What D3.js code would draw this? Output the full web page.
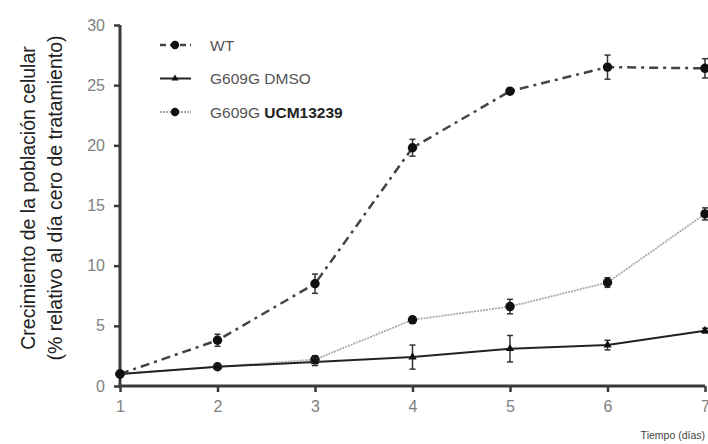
<!DOCTYPE html>
<html>
<head>
<meta charset="utf-8">
<script src="https://cdn.jsdelivr.net/npm/d3@7"></script>
<style>
  body { margin: 0; background: #fff; }
  text { font-family: "Liberation Sans", Arial, sans-serif; }
</style>
</head>
<body>
<div id="chart"></div>
<script>
// Data
const days = [1, 2, 3, 4, 5, 6, 7]
const wt = [1.0, 3.8, 8.5, 19.8, 24.5, 26.5, 26.4]
const wtErr = [0.1, 0.5, 0.8, 0.7, 0.2, 1.0, 0.8]
const dmso = [1.0, 1.6, 2.0, 2.4, 3.1, 3.4, 4.6]
const dmsoErr = [0.1, 0.2, 0.3, 1.0, 1.1, 0.4, 0.2]
const ucm = [1.0, 1.6, 2.2, 5.5, 6.6, 8.6, 14.3]
const ucmErr = [0.1, 0.2, 0.3, 0.2, 0.6, 0.4, 0.5]
const yTicks = [0, 5, 10, 15, 20, 25, 30]

const width = 708,
  height = 444

const svg = d3.select('#chart')
  .append('svg')
  .attr('width', width)
  .attr('height', height)

const x = d3.scaleLinear().domain([1, 7]).range([120, 705])
const y = d3.scaleLinear().domain([0, 30]).range([386, 25])

// axes
const yAxis = svg.append('g')
  .attr('transform', 'translate(120,0)')
  .call(d3.axisLeft(y).tickValues(yTicks).tickSize(6).tickSizeOuter(0).tickPadding(9))
const xAxis = svg.append('g')
  .attr('transform', `translate(0,${y(0)})`)
  .call(d3.axisBottom(x).tickValues(days).tickFormat(d3.format('d')).tickSize(6).tickSizeOuter(0).tickPadding(9))

// axis lines drawn as thin rects
svg.selectAll('.domain').remove()
svg.append('rect')
  .attr('x', x(1) - 1.5).attr('y', y(30))
  .attr('width', 3).attr('height', y(0) - y(30) + 1.5)
  .attr('fill', '#3a3a3a')
svg.append('rect')
  .attr('x', x(1) - 1.5).attr('y', y(0) - 1.5)
  .attr('width', x(7) - x(1) + 1.5).attr('height', 3)
  .attr('fill', '#3a3a3a')
svg.selectAll('.tick line')
  .attr('stroke', '#3a3a3a')
  .attr('stroke-width', 2.5)
svg.selectAll('.tick text')
  .attr('fill', '#808080')
  .style('font-size', '16px')
  .style('font-family', '"Liberation Sans", Arial, sans-serif')

// y title
const yTitle = svg.append('text')
  .attr('transform', 'translate(35,198) rotate(-90)')
  .attr('text-anchor', 'middle')
  .attr('fill', '#222')
  .style('font-size', '19.5px')
yTitle.append('tspan').attr('x', 0).attr('dy', 0).text('Crecimiento de la población celular')
yTitle.append('tspan').attr('x', 0).attr('dy', 27).text('(% relativo al día cero de tratamiento)')

svg.append('text')
  .attr('x', 705).attr('y', 439)
  .attr('text-anchor', 'end')
  .attr('fill', '#444')
  .style('font-size', '10.5px')
  .text('Tiempo (días)')

const series = [
  { name: 'WT', values: wt, err: wtErr, stroke: '#444', dash: '9,5,3,5', sw: 2.5, marker: 'circle' },
  { name: 'G609G DMSO', values: dmso, err: dmsoErr, stroke: '#222', dash: null, sw: 2, marker: 'triangle' },
  { name: 'G609G UCM13239', values: ucm, err: ucmErr, stroke: '#aaa', dash: '2,1', sw: 1.8, marker: 'circle' }
]

const line = d3.line().x((d, i) => x(days[i])).y(d => y(d))

// draw lighter series first
series.slice().reverse().forEach(s => {
  const g = svg.append('g')
  g.append('path')
    .datum(s.values)
    .attr('d', line)
    .attr('fill', 'none')
    .attr('stroke', s.stroke)
    .attr('stroke-width', s.sw)
    .attr('stroke-dasharray', s.dash)

  // error bars
  const eb = g.selectAll('.err')
    .data(s.values)
    .enter()
    .append('g')
  eb.append('line')
    .attr('x1', (d, i) => x(days[i])).attr('x2', (d, i) => x(days[i]))
    .attr('y1', (d, i) => y(d + s.err[i])).attr('y2', (d, i) => y(d - s.err[i]))
    .attr('stroke', '#333').attr('stroke-width', 1.5)
  eb.append('line')
    .attr('x1', (d, i) => x(days[i]) - 3).attr('x2', (d, i) => x(days[i]) + 3)
    .attr('y1', (d, i) => y(d + s.err[i])).attr('y2', (d, i) => y(d + s.err[i]))
    .attr('stroke', '#333').attr('stroke-width', 1.5)
  eb.append('line')
    .attr('x1', (d, i) => x(days[i]) - 3).attr('x2', (d, i) => x(days[i]) + 3)
    .attr('y1', (d, i) => y(d - s.err[i])).attr('y2', (d, i) => y(d - s.err[i]))
    .attr('stroke', '#333').attr('stroke-width', 1.5)

  const sym = s.marker === 'circle'
    ? d3.symbol().type(d3.symbolCircle).size(70)
    : d3.symbol().type(d3.symbolTriangle).size(30)
  g.selectAll('.pt')
    .data(s.values)
    .enter()
    .append('path')
    .attr('d', sym)
    .attr('transform', (d, i) => `translate(${x(days[i])},${y(d)})`)
    .attr('fill', '#111')
})

// legend
const legend = svg.append('g')
series.forEach((s, i) => {
  const ly = 45 + i * 33.5
  legend.append('line')
    .attr('x1', 160).attr('x2', 191)
    .attr('y1', ly).attr('y2', ly)
    .attr('stroke', s.stroke)
    .attr('stroke-width', s.sw)
    .attr('stroke-dasharray', s.dash ? (i === 0 ? '6,4' : '2,1') : null)
  const sym = s.marker === 'circle'
    ? d3.symbol().type(d3.symbolCircle).size(55)
    : d3.symbol().type(d3.symbolTriangle).size(22)
  legend.append('path')
    .attr('d', sym)
    .attr('transform', `translate(175,${ly})`)
    .attr('fill', '#111')
  const t = legend.append('text')
    .attr('x', 210).attr('y', ly + 5.5)
    .attr('fill', '#555')
    .style('font-size', '15.5px')
  if (i === 2) {
    t.append('tspan').text('G609G ')
    t.append('tspan').attr('font-weight', 'bold').attr('fill', '#222').text('UCM13239')
  } else {
    t.text(s.name)
  }
})
</script>
</body>
</html>
